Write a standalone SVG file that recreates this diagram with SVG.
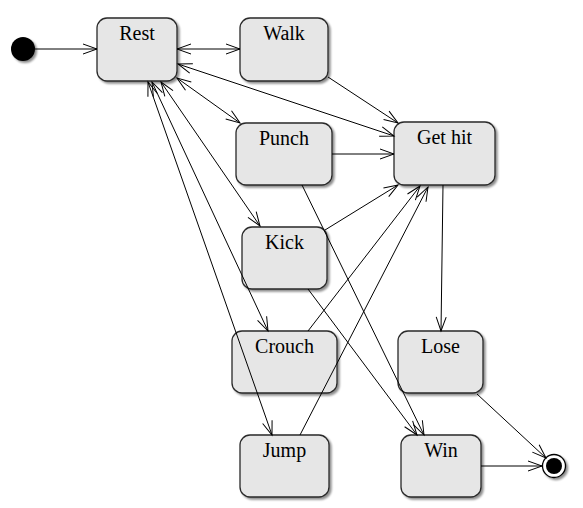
<svg xmlns="http://www.w3.org/2000/svg" width="583" height="508" viewBox="0 0 583 508">
<style>
.n rect{fill:#e6e6e6;stroke:#2a2a2a;stroke-width:1.3;filter:url(#sh)}
.n text{font-family:"Liberation Serif","Times New Roman",serif;font-size:20px;fill:#000;text-anchor:middle}
.c line{stroke:#000;stroke-width:1;fill:none}
.e{marker-end:url(#a)}
.b{marker-start:url(#a);marker-end:url(#a)}
</style>
<defs>
<filter id="sh" x="-10%" y="-10%" width="130%" height="130%">
<feGaussianBlur in="SourceAlpha" stdDeviation="1.2"/>
<feOffset dx="2" dy="2" result="o"/>
<feComponentTransfer><feFuncA type="linear" slope="0.45"/></feComponentTransfer>
<feMerge><feMergeNode/><feMergeNode in="SourceGraphic"/></feMerge>
</filter>
<marker id="a" markerWidth="16" markerHeight="12" refX="15" refY="6" orient="auto-start-reverse" markerUnits="userSpaceOnUse" overflow="visible">
<path d="M1,1 L15,6 L1,11" fill="none" stroke="#000" stroke-width="1"/>
</marker>
</defs>
<rect width="583" height="508" fill="#fff"/>
<g id="initial"><circle cx="23" cy="49" r="12" fill="#000" filter="url(#sh)"/></g>
<g id="final"><circle cx="554" cy="466" r="11.5" fill="#fff" stroke="#000" stroke-width="1.3" filter="url(#sh)"/><circle cx="554" cy="466" r="8" fill="#000"/></g>
<g id="rest" class="n"><rect x="97" y="18" width="80" height="63" rx="10"/><text x="137" y="40">Rest</text></g>
<g id="walk" class="n"><rect x="240" y="18" width="88" height="63" rx="10"/><text x="284" y="40">Walk</text></g>
<g id="punch" class="n"><rect x="236" y="123" width="96" height="62" rx="10"/><text x="284" y="145">Punch</text></g>
<g id="gethit" class="n"><rect x="394" y="122" width="101" height="63" rx="10"/><text x="444.5" y="144">Get hit</text></g>
<g id="kick" class="n"><rect x="242" y="227" width="85" height="62" rx="10"/><text x="284.5" y="249">Kick</text></g>
<g id="crouch" class="n"><rect x="232" y="331" width="105" height="62" rx="10"/><text x="284.5" y="353">Crouch</text></g>
<g id="lose" class="n"><rect x="398" y="331" width="85" height="62" rx="10"/><text x="440.5" y="353">Lose</text></g>
<g id="jump" class="n"><rect x="240" y="435" width="89" height="62" rx="10"/><text x="284.5" y="457">Jump</text></g>
<g id="win" class="n"><rect x="401" y="435" width="80" height="62" rx="10"/><text x="441" y="457">Win</text></g>
<g id="connectors" class="c">
<line class="e" x1="35" y1="49" x2="97" y2="49"/>
<line class="b" x1="177" y1="49" x2="240" y2="49"/>
<line class="b" x1="178" y1="64" x2="394" y2="136"/>
<line class="b" x1="177" y1="78" x2="240" y2="123"/>
<line class="b" x1="161" y1="82" x2="260" y2="226"/>
<line class="b" x1="152" y1="82" x2="268" y2="331"/>
<line class="b" x1="148" y1="82" x2="272" y2="435"/>
<line class="e" x1="328" y1="77" x2="398" y2="123"/>
<line class="e" x1="332" y1="154" x2="394" y2="154"/>
<line class="e" x1="302" y1="185" x2="424" y2="435"/>
<line class="e" x1="325" y1="230" x2="398" y2="185"/>
<line class="e" x1="308" y1="289" x2="417" y2="435"/>
<line class="e" x1="308" y1="331" x2="420" y2="186"/>
<line class="e" x1="300" y1="435" x2="428" y2="187"/>
<line class="e" x1="443" y1="185" x2="441" y2="331"/>
<line class="e" x1="477" y1="394" x2="546" y2="458"/>
<line class="e" x1="481" y1="466" x2="542" y2="466"/>
</g>
</svg>
